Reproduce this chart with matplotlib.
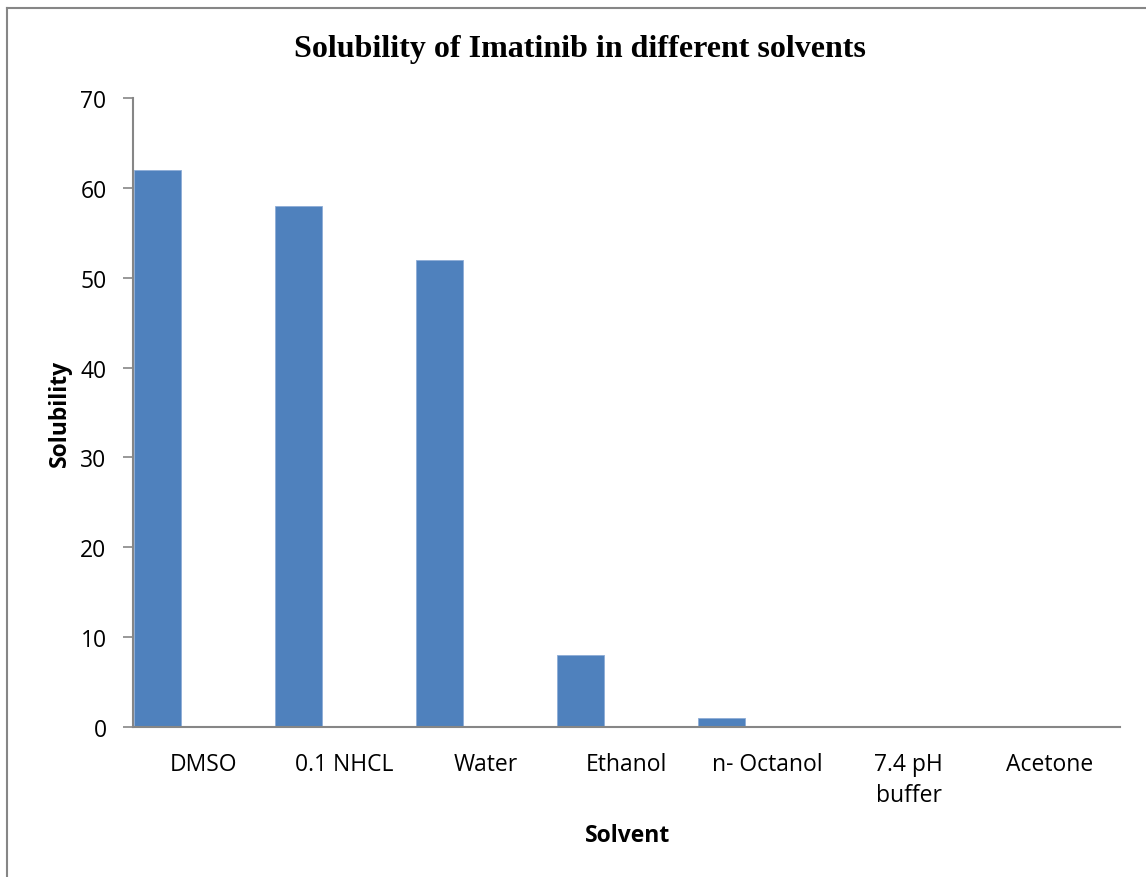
import matplotlib
matplotlib.use("Agg")
import matplotlib.pyplot as plt
from matplotlib.lines import Line2D

categories = ["DMSO", "0.1 NHCL", "Water", "Ethanol", "n- Octanol", "7.4 pH\nbuffer", "Acetone"]
solubility = [62, 58, 52, 8, 1, 0, 0]
y_ticks = [0, 10, 20, 30, 40, 50, 60, 70]

W, H = 1146, 878
fig = plt.figure(figsize=(W / 100, H / 100), dpi=100)
fig.patch.set_facecolor("white")

# outer frame (only left and top edges visible)
fig.add_artist(Line2D([6.5 / W, 6.5 / W], [0, 1 - 8.5 / H], transform=fig.transFigure,
                      color="#868686", linewidth=1.5))
fig.add_artist(Line2D([6.5 / W, 1], [1 - 8.5 / H, 1 - 8.5 / H], transform=fig.transFigure,
                      color="#868686", linewidth=1.5))

ax = fig.add_axes([133 / W, 1 - 728 / H, (1120 - 133) / W, (728 - 99) / H])

x = list(range(len(categories)))
bar_w = 1 / 3
lefts = [i - 0.5 + 0.01 for i in x]
ax.bar(lefts, solubility, width=bar_w, align="edge", color="#4F81BD",
       edgecolor="#8EACD6", linewidth=0.6, zorder=2)

ax.set_xlim(-0.5, len(categories) - 0.5)
ax.set_ylim(0, 70)
ax.set_yticks(y_ticks)
ax.set_xticks(x)
tick_font = "Open Sans"
fs = 16.5
ax.set_xticklabels(categories, fontsize=fs, family=tick_font, linespacing=1.4)
ax.set_yticklabels([str(v) for v in y_ticks], fontsize=fs, family=tick_font)

for s in ["top", "right"]:
    ax.spines[s].set_visible(False)
for s in ["left", "bottom"]:
    ax.spines[s].set_color("#868686")
    ax.spines[s].set_linewidth(1.5)
ax.tick_params(axis="y", direction="out", length=7, width=1.2, color="#868686", pad=12)
ax.tick_params(axis="x", length=0, pad=18)
for lbl in ax.get_xticklabels():
    lbl.set_verticalalignment("top")

fig.text(580 / W, 1 - 50 / H, "Solubility of Imatinib in different solvents",
         ha="center", va="center", fontsize=23, fontweight="bold", family="Liberation Serif")
fig.text(60 / W, 1 - 413 / H, "Solubility", rotation=90, ha="center", va="center",
         fontsize=fs, fontweight="bold", family=tick_font)
fig.text(628 / W, 1 - 836 / H, "Solvent", ha="center", va="center",
         fontsize=fs, fontweight="bold", family=tick_font)

fig.savefig("out.png", dpi=100)
